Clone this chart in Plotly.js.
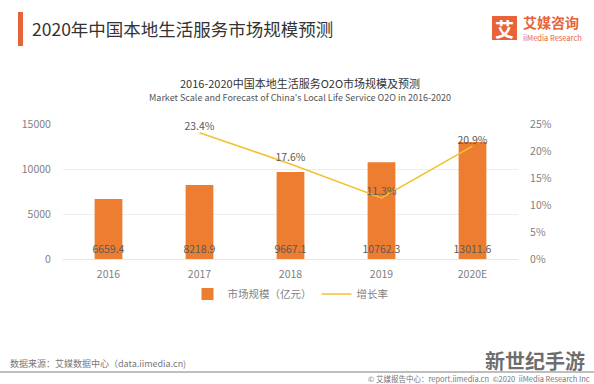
<!DOCTYPE html>
<html>
<head>
<meta charset="utf-8">
<script src="https://cdn.plot.ly/plotly-3.0.1.min.js"></script>
<style>
html,body{margin:0;padding:0;background:#fff;}
#chart{width:594px;height:384px;}
</style>
</head>
<body>
<div id="chart"></div>
<script>
var years = ['2016', '2017', '2018', '2019', '2020E'];
var marketSize = [6659.4, 8218.9, 9667.1, 10762.3, 13011.6];
var growthRate = [null, 0.234, 0.176, 0.113, 0.209];
var growthLabels = ['', '23.4%', '17.6%', '11.3%', '20.9%'];
var sizeLabels = ['6659.4', '8218.9', '9667.1', '10762.3', '13011.6'];
var yTicks = [0, 5000, 10000, 15000];
var yTickLabels = ['0', '5000', '10000', '15000'];
var y2Ticks = [0, 0.05, 0.10, 0.15, 0.20, 0.25];
var y2TickLabels = ['0%', '5%', '10%', '15%', '20%', '25%'];

var FONT = '"Noto Sans CJK SC", "Noto Sans", sans-serif';
var L = 63, R = 518, T = 124, B = 259;
function px(x) { return (x - L) / (R - L); }
function py(y) { return (B - y) / (B - T); }

var traces = [
  {
    type: 'bar', name: '市场规模（亿元）', x: years, y: marketSize,
    marker: {color: '#ED7D31'},
    text: sizeLabels, textposition: 'inside', insidetextanchor: 'start',
    textangle: 0, constraintext: 'none',
    textfont: {color: '#595959', size: 10.5, family: FONT},
    hoverinfo: 'none', cliponaxis: false
  },
  {
    type: 'scatter', mode: 'lines+text', name: '增长率', x: years, y: growthRate,
    yaxis: 'y2', line: {color: '#F4C12E', width: 1.6},
    text: growthLabels, textposition: 'top center',
    textfont: {color: '#595959', size: 10.5, family: FONT},
    hoverinfo: 'none', cliponaxis: false
  }
];

var layout = {
  width: 594, height: 384,
  margin: {l: L, r: 594 - R, t: T, b: 384 - B, pad: 0},
  paper_bgcolor: '#fff', plot_bgcolor: '#fff',
  font: {family: FONT, color: '#7f7f7f', size: 10.5},
  showlegend: true,
  legend: {orientation: 'h', x: 0.5, xanchor: 'center', y: py(294), yanchor: 'middle',
           font: {size: 10.5, color: '#7f7f7f', family: FONT}, itemwidth: 30, tracegroupgap: 0},
  bargap: 0.695,
  xaxis: {type: 'category', showgrid: false, zeroline: false, showline: false,
          ticks: 'outside', ticklen: 5, tickcolor: 'rgba(0,0,0,0)',
          tickfont: {size: 10.5, color: '#7f7f7f'}},
  yaxis: {range: [0, 15000], tickvals: yTicks, ticktext: yTickLabels, showgrid: true, gridcolor: '#eeeeee', gridwidth: 1,
          zeroline: true, zerolinecolor: '#e6e6e6', showline: false,
          ticks: 'outside', ticklen: 9, tickcolor: 'rgba(0,0,0,0)',
          tickfont: {size: 10.5, color: '#7f7f7f'}},
  yaxis2: {range: [0, 0.25], overlaying: 'y', side: 'right', tickvals: y2Ticks, ticktext: y2TickLabels,
           showgrid: false, zeroline: false, showline: false,
           ticks: 'outside', ticklen: 9, tickcolor: 'rgba(0,0,0,0)',
           tickfont: {size: 10.5, color: '#7f7f7f'}},
  shapes: [
    {type: 'rect', xref: 'paper', yref: 'paper', x0: px(18), x1: px(23), y0: py(12), y1: py(46),
     fillcolor: '#E8623A', line: {width: 0}},
    {type: 'rect', xref: 'paper', yref: 'paper', x0: px(492), x1: px(517), y0: py(16), y1: py(40),
     fillcolor: '#E8623A', line: {width: 0}},
    {type: 'line', xref: 'paper', yref: 'paper', x0: px(0), x1: px(594), y0: py(372), y1: py(372),
     line: {color: '#a8a8a8', width: 1.5}}
  ],
  annotations: [
    {text: '2020年中国本地生活服务市场规模预测', xref: 'paper', yref: 'paper', x: px(30), y: py(28),
     xanchor: 'left', yanchor: 'middle', showarrow: false, font: {size: 17.5, color: '#333333', family: FONT}},
    {text: '<b>艾</b>', xref: 'paper', yref: 'paper', x: px(504.5), y: py(28), xanchor: 'center', yanchor: 'middle',
     showarrow: false, font: {size: 19, color: '#ffffff', family: FONT}},
    {text: '<b>艾媒咨询</b>', xref: 'paper', yref: 'paper', x: px(521), y: py(22), xanchor: 'left', yanchor: 'middle',
     showarrow: false, font: {size: 14, color: '#E8623A', family: FONT}},
    {text: 'iiMedia Research', xref: 'paper', yref: 'paper', x: px(521), y: py(37), xanchor: 'left', yanchor: 'middle',
     showarrow: false, font: {size: 7.5, color: '#E8623A', family: FONT}},
    {text: '2016-2020中国本地生活服务O2O市场规模及预测', xref: 'paper', yref: 'paper', x: px(300), y: py(83),
     xanchor: 'center', yanchor: 'middle', showarrow: false, font: {size: 11, color: '#333333', family: FONT}},
    {text: "Market Scale and Forecast of China's Local Life Service O2O in 2016-2020", xref: 'paper', yref: 'paper',
     x: px(300), y: py(97), xanchor: 'center', yanchor: 'middle', showarrow: false,
     font: {size: 9, color: '#555555', family: FONT}},
    {text: '数据来源：艾媒数据中心（data.iimedia.cn)', xref: 'paper', yref: 'paper', x: px(8), y: py(363),
     xanchor: 'left', yanchor: 'middle', showarrow: false, font: {size: 9, color: '#777777', family: FONT}},
    {text: '© 艾媒报告中心：report.iimedia.cn  ©2020  iiMedia Research Inc', xref: 'paper', yref: 'paper',
     x: px(592), y: py(378), xanchor: 'right', yanchor: 'middle', showarrow: false,
     font: {size: 7.5, color: '#777777', family: FONT}},
    {text: '<b>新世纪手游</b>', xref: 'paper', yref: 'paper', x: px(587), y: py(360), xanchor: 'right', yanchor: 'middle',
     showarrow: false, font: {size: 20, color: 'rgba(70,70,70,0.8)', family: FONT}}
  ]
};

Plotly.newPlot('chart', traces, layout, {displayModeBar: false, staticPlot: true});
</script>
</body>
</html>
